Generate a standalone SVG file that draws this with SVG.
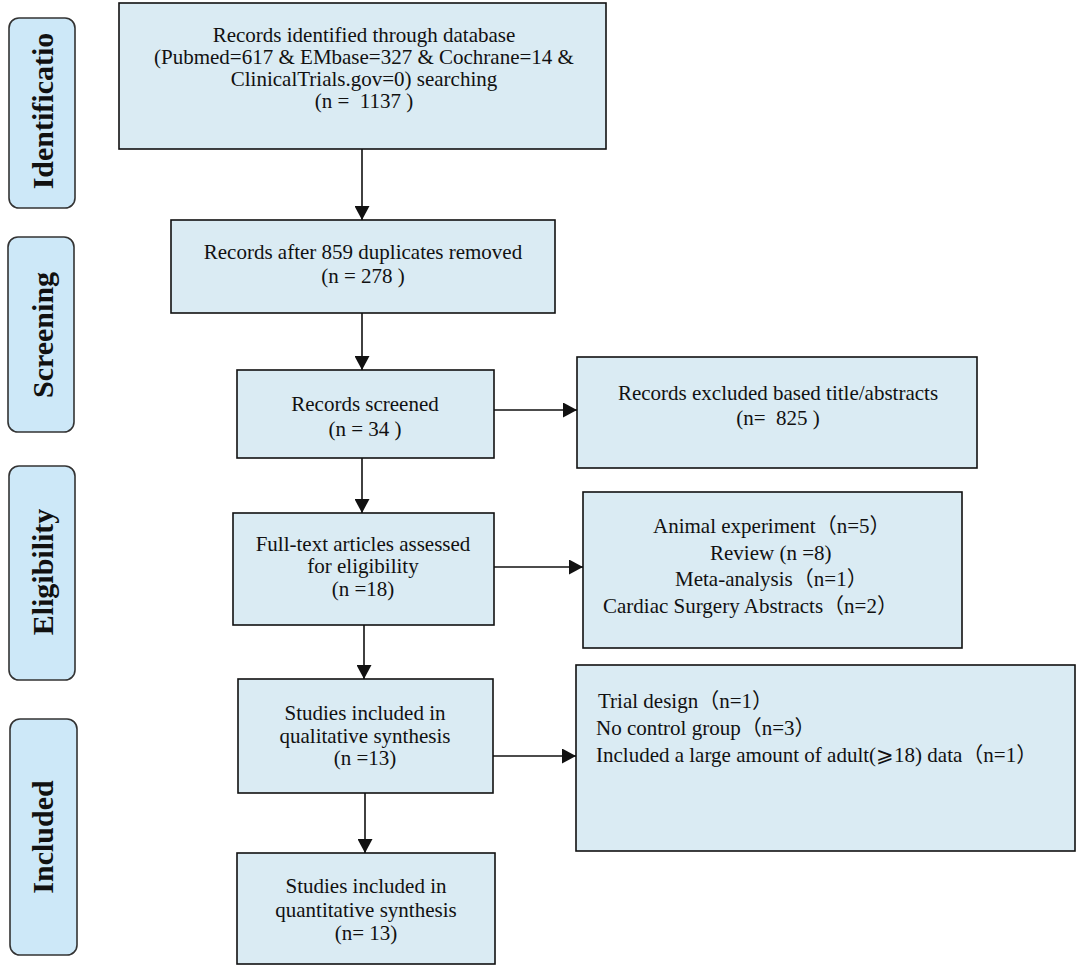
<svg xmlns="http://www.w3.org/2000/svg" width="1084" height="974" viewBox="0 0 1084 974">
<defs>
<style>
.side{fill:#cde8f8;stroke:#333;stroke-width:1.6}
.sidet{font-family:"Liberation Serif","Times New Roman",serif;font-weight:bold;font-size:30px;fill:#111;text-anchor:middle}
.box{fill:#daebf3;stroke:#111;stroke-width:1.6}
.t{font-family:"Liberation Serif","Noto Sans CJK SC",serif;font-size:21px;fill:#111;white-space:pre}
.c{text-anchor:middle}
.ln{stroke:#111;stroke-width:1.6;fill:none}
</style>
<marker id="ah" viewBox="0 0 14 15" refX="14" refY="7.5" markerWidth="14" markerHeight="15" markerUnits="userSpaceOnUse" orient="auto">
<path d="M0,0 L14,7.5 L0,15 Z" fill="#111"/>
</marker>
</defs>
<rect width="1084" height="974" fill="#fff"/>
<g id="stage-identification">
<rect class="side" x="9" y="18" width="66" height="190" rx="10"/>
<text class="sidet" transform="translate(53,111) rotate(-90)">Identificatio</text>
</g>
<g id="stage-screening">
<rect class="side" x="8" y="237" width="66" height="195" rx="10"/>
<text class="sidet" transform="translate(53,335) rotate(-90)">Screening</text>
</g>
<g id="stage-eligibility">
<rect class="side" x="9" y="466" width="66" height="214" rx="10"/>
<text class="sidet" transform="translate(53,572) rotate(-90)">Eligibility</text>
</g>
<g id="stage-included">
<rect class="side" x="10" y="719" width="67" height="236" rx="10"/>
<text class="sidet" transform="translate(53,837) rotate(-90)">Included</text>
</g>
<g id="n-identified">
<rect class="box" x="119" y="3" width="487" height="146"/>
<text class="t c" x="364" y="42">Records identified through database</text>
<text class="t c" x="364" y="64">(Pubmed=617 &amp; EMbase=327 &amp; Cochrane=14 &amp;</text>
<text class="t c" x="364" y="86">ClinicalTrials.gov=0) searching</text>
<text class="t c" x="364" y="108">(n =  1137 )</text>
</g>
<g id="n-duplicates">
<rect class="box" x="171" y="220" width="384" height="93"/>
<text class="t c" x="363" y="259">Records after 859 duplicates removed</text>
<text class="t c" x="363" y="283">(n = 278 )</text>
</g>
<g id="n-screened">
<rect class="box" x="237" y="370" width="257" height="88"/>
<text class="t c" x="365" y="411">Records screened</text>
<text class="t c" x="365" y="436">(n = 34 )</text>
</g>
<g id="n-excluded">
<rect class="box" x="577" y="357" width="400" height="111"/>
<text class="t c" x="778" y="400">Records excluded based title/abstracts</text>
<text class="t c" x="778" y="425">(n=  825 )</text>
</g>
<g id="n-fulltext">
<rect class="box" x="233" y="513" width="261" height="112"/>
<text class="t c" x="363" y="551">Full-text articles assessed</text>
<text class="t c" x="363" y="573">for eligibility</text>
<text class="t c" x="363" y="596">(n =18)</text>
</g>
<g id="n-fulltext-excluded">
<rect class="box" x="583" y="492" width="379" height="156"/>
<text class="t" x="653" y="533">Animal experiment（n=5）</text>
<text class="t" x="710" y="560">Review (n =8)</text>
<text class="t" x="675" y="586">Meta-analysis（n=1）</text>
<text class="t" x="603" y="613">Cardiac Surgery Abstracts（n=2）</text>
</g>
<g id="n-qualitative">
<rect class="box" x="238" y="679" width="255" height="114"/>
<text class="t c" x="365" y="720">Studies included in</text>
<text class="t c" x="365" y="743">qualitative synthesis</text>
<text class="t c" x="365" y="765">(n =13)</text>
</g>
<g id="n-qual-excluded">
<rect class="box" x="576" y="665" width="499" height="186"/>
<text class="t" x="598" y="708">Trial design（n=1）</text>
<text class="t" x="596" y="735">No control group（n=3）</text>
<text class="t" x="596" y="762">Included a large amount of adult(⩾18) data（n=1）</text>
</g>
<g id="n-quantitative">
<rect class="box" x="237" y="853" width="258" height="111"/>
<text class="t c" x="366" y="893">Studies included in</text>
<text class="t c" x="366" y="917">quantitative synthesis</text>
<text class="t c" x="366" y="940">(n= 13)</text>
</g>
<g id="connectors">
<line class="ln" x1="362" y1="149" x2="362" y2="220" marker-end="url(#ah)"/>
<line class="ln" x1="362" y1="313" x2="362" y2="370" marker-end="url(#ah)"/>
<line class="ln" x1="494" y1="410" x2="577" y2="410" marker-end="url(#ah)"/>
<line class="ln" x1="362" y1="458" x2="362" y2="513" marker-end="url(#ah)"/>
<line class="ln" x1="494" y1="567" x2="583" y2="567" marker-end="url(#ah)"/>
<line class="ln" x1="364" y1="625" x2="364" y2="679" marker-end="url(#ah)"/>
<line class="ln" x1="493" y1="756" x2="576" y2="756" marker-end="url(#ah)"/>
<line class="ln" x1="365" y1="793" x2="365" y2="853" marker-end="url(#ah)"/>
</g>
</svg>
